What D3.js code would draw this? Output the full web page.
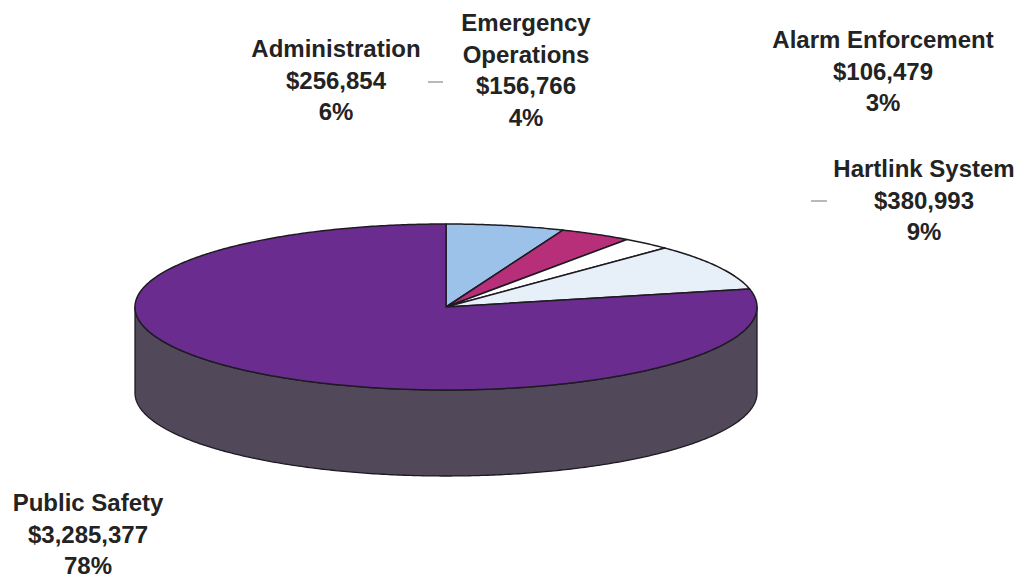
<!DOCTYPE html>
<html>
<head>
<meta charset="utf-8">
<script src="https://cdn.jsdelivr.net/npm/d3@7"></script>
<style>
  html, body { margin: 0; padding: 0; background: #ffffff; }
  svg { display: block; }
  text { font-family: "Liberation Sans", Arial, sans-serif; font-weight: bold; fill: #232323; }
</style>
</head>
<body>
<svg id="chart" width="1029" height="579"></svg>
<script>
// Budget by program
const categories = ["Administration", "Emergency Operations", "Alarm Enforcement", "Hartlink System", "Public Safety"];
const amounts = [256854, 156766, 106479, 380993, 3285377];
const percentLabels = ["6%", "4%", "3%", "9%", "78%"];
const topColors = ["#9dc2ea", "#b62f78", "#ffffff", "#e7eff8", "#6a2d8f"];
const sideColors = ["#6f8fb0", "#7e2053", "#bdbdbd", "#a9b2bd", "#514859"];

// Label lines for each category (name may wrap)
const labelLines = [
  ["Administration"],
  ["Emergency", "Operations"],
  ["Alarm Enforcement"],
  ["Hartlink System"],
  ["Public Safety"]
];

const svg = d3.select("#chart");
const cx = 446, cy = 307, rx = 311, ry = 83, depth = 86;

const pie = d3.pie().sort(null).value(d => d)(amounts);

// angle measured clockwise from 12 o'clock, projected onto the tilted ellipse
const px = a => cx + rx * Math.sin(a);
const py = a => cy - ry * Math.cos(a);

function arcPoints(a0, a1, dy) {
  const n = Math.max(2, Math.ceil(Math.abs(a1 - a0) / 0.01));
  return d3.range(n + 1).map(i => {
    const a = a0 + (a1 - a0) * i / n;
    return [px(a), py(a) + dy];
  });
}

const line = d3.line();
const outline = "#1e1a22";

// Outer walls: only the front half of the disc faces the viewer
const frontStart = Math.PI / 2, frontEnd = 3 * Math.PI / 2;
const walls = svg.append("g");
pie.forEach((d, i) => {
  const a0 = Math.max(d.startAngle, frontStart);
  const a1 = Math.min(d.endAngle, frontEnd);
  if (a1 <= a0) return;
  const pts = arcPoints(a0, a1, 0).concat(arcPoints(a1, a0, depth));
  walls.append("path")
    .attr("d", line(pts) + "Z")
    .attr("fill", sideColors[i])
    .attr("stroke", outline)
    .attr("stroke-width", 1.3)
    .attr("stroke-linejoin", "round");
});

// Top faces of the slices
const tops = svg.append("g");
pie.forEach((d, i) => {
  const pts = [[cx, cy]].concat(arcPoints(d.startAngle, d.endAngle, 0));
  tops.append("path")
    .attr("d", line(pts) + "Z")
    .attr("fill", topColors[i])
    .attr("stroke", outline)
    .attr("stroke-width", 1.5)
    .attr("stroke-linejoin", "round");
});

// Labels: name, amount, percent
const fmt = d3.format("$,");
const labelPos = [
  { x: 336, y: 57 },
  { x: 526, y: 31 },
  { x: 883, y: 48 },
  { x: 924, y: 177 },
  { x: 88, y: 511 }
];
const lineGap = 31.5;
const labels = svg.append("g").attr("font-size", 24).attr("text-anchor", "middle");
categories.forEach((c, i) => {
  const lines = labelLines[i].concat([fmt(amounts[i]), percentLabels[i]]);
  const t = labels.append("text")
    .attr("x", labelPos[i].x)
    .attr("y", labelPos[i].y);
  lines.forEach((s, k) => {
    t.append("tspan")
      .attr("x", labelPos[i].x)
      .attr("dy", k === 0 ? 0 : lineGap)
      .text(s);
  });
});

// Short leader ticks beside two of the labels
const ticks = [
  { x1: 428, x2: 443, y: 82 },
  { x1: 811, x2: 827, y: 201 }
];
svg.append("g").selectAll("line").data(ticks).join("line")
  .attr("x1", d => d.x1).attr("x2", d => d.x2)
  .attr("y1", d => d.y).attr("y2", d => d.y)
  .attr("stroke", "#8a8a8a")
  .attr("stroke-width", 1.2);
</script>
</body>
</html>
